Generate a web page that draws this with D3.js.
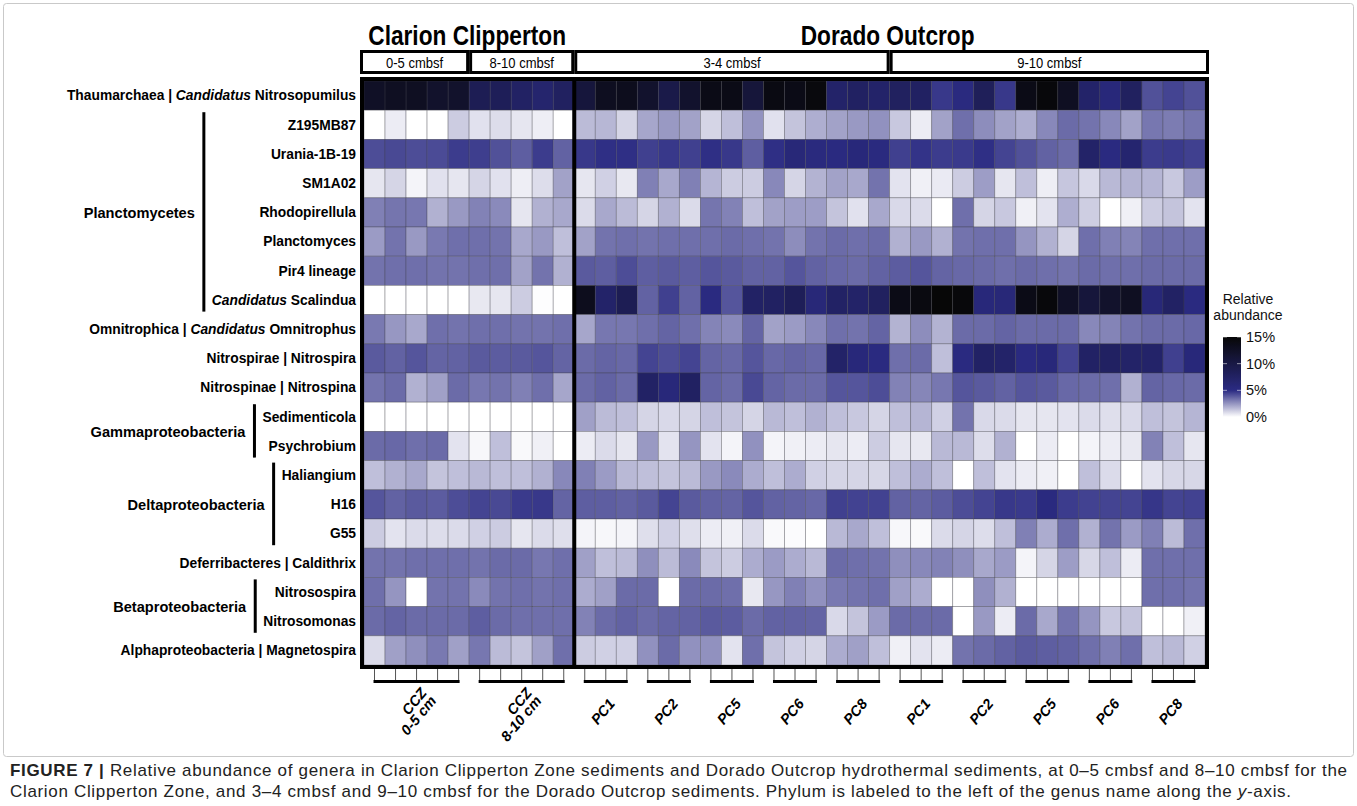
<!DOCTYPE html>
<html>
<head>
<meta charset="utf-8">
<script src="https://cdn.jsdelivr.net/npm/d3@7"></script>
<style>
  body { margin: 0; background: #fff; }
  svg { display: block; font-family: "Liberation Sans", Arial, sans-serif; }
</style>
</head>
<body>
<svg id="chart" width="1357" height="806"></svg>
<script>
// ---- data -------------------------------------------------------------
const sites = ["Clarion Clipperton", "Dorado Outcrop"];
const depths = ["0-5 cmbsf", "8-10 cmbsf", "3-4 cmbsf", "9-10 cmbsf"];
const depthSite = [0, 0, 1, 1];

// sample groups along the x axis (replicate cores per group)
const groupLabels = [["CCZ", "0-5 cm"], ["CCZ", "8-10 cm"], ["PC1"], ["PC2"], ["PC5"], ["PC6"], ["PC8"],
                     ["PC1"], ["PC2"], ["PC5"], ["PC6"], ["PC8"]];
const groupSizes = [5, 5, 3, 3, 3, 3, 3, 3, 3, 3, 3, 3];
const groupDepth = [0, 1, 2, 2, 2, 2, 2, 3, 3, 3, 3, 3];

// genus rows (text between * is italic)
const genera = [
  "Thaumarchaea | *Candidatus* Nitrosopumilus",
  "Z195MB87", "Urania-1B-19", "SM1A02", "Rhodopirellula", "Planctomyces", "Pir4 lineage",
  "*Candidatus* Scalindua",
  "Omnitrophica | *Candidatus* Omnitrophus",
  "Nitrospirae | Nitrospira",
  "Nitrospinae | Nitrospina",
  "Sedimenticola", "Psychrobium",
  "Haliangium", "H16", "G55",
  "Deferribacteres | Caldithrix",
  "Nitrosospira", "Nitrosomonas",
  "Alphaproteobacteria | Magnetospira"
];

// phyla spanning several genus rows
const phylumNames = ["Planctomycetes", "Gammaproteobacteria", "Deltaproteobacteria", "Betaproteobacteria"];
const phylumFirstRow = [1, 11, 13, 17];
const phylumLastRow = [7, 12, 15, 18];

// relative abundance (%), one row per genus, 40 samples per row
const abundance = [
  [12.5,12.8,12.8,12.0,12.0, 8.8,8.5,7.5,6.8,7.8, 10.7,13.0,13.2,11.9,9.7, 11.9,13.8,13.8,10.9,14.1, 13.8,14.5,7.1,7.7,7.1, 7.9,7.7,4.7,5.3,8.4, 4.7,13.8,14.7,12.8,7.1, 5.7,7.9,4.1,4.4,4.1],
  [0.0,0.45,0.0,0.0,1.2, 0.7,0.8,0.6,0.4,0.0, 1.6,1.7,1.0,2.1,2.4, 2.2,1.0,1.5,2.55,0.7, 1.4,1.9,2.2,2.4,2.6, 1.3,0.45,2.2,3.4,2.7, 2.2,1.9,2.8,3.5,3.3, 2.8,2.2,3.2,3.1,3.25],
  [4.2,4.3,4.2,4.25,4.6, 4.55,4.1,3.8,4.6,3.7, 4.7,4.9,4.9,4.5,4.7, 4.5,4.9,4.7,3.8,4.9, 5.9,5.4,5.25,5.7,5.3, 4.5,4.8,4.6,4.65,4.9, 4.4,4.1,3.7,3.5,7.2, 5.25,6.6,4.6,4.65,4.5],
  [0.6,1.0,0.25,0.7,0.6, 1.0,0.7,0.4,0.8,2.2, 0.6,1.1,0.55,3.0,2.05, 3.0,1.75,1.2,1.2,2.8, 1.0,1.8,2.2,2.05,3.3, 0.65,0.35,0.5,1.2,2.3, 0.6,1.5,0.4,1.35,0.9, 1.65,1.8,1.75,1.3,2.3],
  [3.0,3.25,3.2,1.85,2.4, 2.95,2.75,0.6,1.85,2.05, 0.85,2.05,1.6,1.0,1.85, 0.85,3.25,2.95,1.5,2.2, 2.3,2.3,1.4,0.7,2.05, 0.9,0.85,0.0,3.4,1.0, 1.3,0.35,0.65,1.9,1.15, 0.0,0.35,1.2,1.4,0.65],
  [2.35,3.3,2.4,3.15,3.4, 3.4,3.3,2.05,2.4,1.5, 2.2,3.3,3.4,3.3,3.4, 3.4,3.4,3.5,3.4,3.3, 2.7,3.3,3.5,3.4,3.5, 1.85,2.4,1.85,3.3,3.4, 3.4,2.5,1.85,1.0,3.4, 3.0,2.9,3.4,3.4,3.4],
  [3.3,3.4,3.4,3.3,3.3, 3.4,3.4,2.2,3.3,1.85, 3.9,3.8,4.2,3.8,3.9, 3.8,4.0,3.9,3.7,3.7, 4.0,3.7,3.55,3.5,3.7, 3.85,4.0,3.65,3.55,3.5, 3.4,3.5,3.4,3.3,3.5, 3.4,3.4,3.5,3.5,3.5],
  [0.0,0.0,0.0,0.0,0.0, 0.55,0.6,1.2,0.05,0.0, 13.2,7.1,8.8,3.7,4.5, 3.7,5.25,4.0,7.4,7.7, 8.5,5.9,7.4,7.2,7.9, 13.8,14.3,15.0,14.7,5.7, 5.9,13.8,14.7,12.5,10.8, 12.0,12.8,5.9,7.5,5.25],
  [3.15,2.45,2.05,3.4,3.3, 3.4,3.4,3.3,3.3,3.4, 2.1,3.2,3.2,3.4,3.65, 3.4,2.9,2.75,3.65,2.2, 2.35,2.8,3.4,3.3,3.65, 1.8,2.7,1.8,3.5,3.5, 3.65,3.5,3.5,3.5,2.8, 2.9,3.3,3.5,3.5,3.55],
  [3.9,3.7,4.0,3.65,3.7, 3.9,3.85,3.9,4.0,3.65, 3.5,3.65,3.55,4.4,4.2, 4.4,3.65,3.55,4.0,3.55, 3.65,3.55,7.2,5.7,5.25, 3.4,3.5,1.5,5.25,7.4, 7.1,5.25,5.7,4.4,7.4, 7.7,7.2,7.1,4.5,5.7],
  [3.3,3.5,1.85,2.25,3.5, 3.2,3.3,3.0,3.4,2.1, 3.5,3.7,3.5,7.4,5.7, 7.7,3.65,3.5,4.3,3.65, 3.5,3.5,4.0,4.0,4.2, 2.95,2.85,3.2,4.0,3.9, 3.7,4.0,3.9,3.55,3.5, 3.4,1.85,3.65,3.55,3.5],
  [0.0,0.0,0.0,0.0,0.0, 0.0,0.0,0.0,0.0,0.0, 2.25,1.6,1.5,1.0,0.9, 1.0,1.5,1.4,1.0,1.65, 1.5,1.85,1.5,1.3,1.0, 1.5,1.75,1.1,3.3,0.9, 0.85,0.6,0.6,0.65,0.85, 0.75,0.9,1.5,1.4,1.75],
  [3.5,3.55,3.4,3.5,0.65, 0.2,1.5,0.15,0.35,0.0, 0.45,0.85,0.6,2.4,0.65, 2.5,0.65,0.25,2.6,0.25, 0.35,0.45,0.6,0.45,1.2, 0.6,0.55,1.65,1.65,0.8, 1.85,0.0,0.45,0.0,0.25, 0.45,0.55,2.95,1.5,0.6],
  [1.5,1.85,2.05,1.4,1.5, 1.65,1.5,1.5,1.85,2.8, 3.0,2.35,1.65,1.5,1.4, 1.6,2.4,2.75,1.95,1.5, 1.95,1.1,1.0,1.0,0.95, 1.5,1.95,1.5,0.0,1.5, 0.65,0.45,0.35,0.0,1.5, 0.85,0.0,0.65,0.95,0.95],
  [4.0,3.7,3.9,3.85,4.2, 4.4,4.3,4.65,4.7,3.65, 3.8,3.8,3.7,3.9,4.4, 3.9,3.7,3.65,4.0,3.7, 3.65,3.55,4.5,4.45,4.45, 3.7,3.65,3.85,4.2,4.4, 4.7,4.65,5.3,4.6,4.45, 4.4,4.4,4.75,4.4,4.45],
  [1.2,0.65,0.85,0.8,0.85, 1.1,1.2,0.6,0.85,0.75, 0.25,0.2,0.25,0.75,1.1, 0.75,0.45,0.35,0.85,0.15, 0.1,0.0,1.65,2.05,1.5, 0.2,0.15,0.85,1.0,0.8, 1.5,3.0,1.95,3.4,1.85, 3.3,2.35,3.0,1.6,3.4],
  [3.3,3.3,3.4,3.4,3.4, 3.3,3.5,3.5,3.2,3.4, 2.25,1.5,1.6,2.65,1.6, 2.75,1.4,1.2,1.95,2.35, 1.95,1.65,3.5,3.4,3.3, 2.65,2.8,2.95,2.65,2.05, 2.35,0.25,1.0,2.3,0.95, 1.5,0.45,3.4,3.4,3.4],
  [3.4,2.5,0.0,3.3,3.3, 2.75,3.3,3.4,3.3,3.4, 1.95,2.25,3.5,3.5,0.0, 3.5,3.5,3.4,0.55,2.45, 3.0,2.6,3.15,3.3,3.4, 2.25,1.95,0.0,0.0,2.65, 1.85,0.0,0.0,0.0,0.0, 0.0,0.0,3.4,3.4,3.3],
  [3.5,3.65,3.5,3.5,3.5, 3.8,3.5,3.4,3.4,3.4, 2.95,3.5,3.7,3.5,3.65, 3.7,3.9,3.85,3.5,3.7, 3.7,3.65,0.9,1.4,2.35, 3.5,3.5,3.5,0.0,2.4, 0.45,3.5,2.05,3.3,2.5, 1.3,1.4,0.0,0.0,0.35],
  [0.85,2.25,2.65,3.15,2.25, 3.2,1.6,1.4,2.25,3.4, 1.2,1.1,1.1,2.6,3.5, 2.6,2.6,0.65,3.4,1.4, 1.1,1.0,1.95,2.25,1.5, 0.35,0.65,0.45,3.3,3.5, 3.7,3.9,3.8,3.7,3.4, 3.0,3.4,1.5,1.65,1.1]
];

const legendTicks = [0, 5, 10, 15];
const legendTitle = ["Relative", "abundance"];

const captionLines = [
  [["FIGURE 7 |", "bold"], [" Relative abundance of genera in Clarion Clipperton Zone sediments and Dorado Outcrop hydrothermal sediments, at 0\u20135 cmbsf and 8\u201310 cmbsf for the", ""]],
  [["Clarion Clipperton Zone, and 3\u20134 cmbsf and 9\u201310 cmbsf for the Dorado Outcrop sediments. Phylum is labeled to the left of the genus name along the ", ""], ["y", "italic"], ["-axis.", ""]]
];
const captionWidths = [1337, 1281];

// ---- derived sample list ----------------------------------------------
const samples = [];
groupSizes.forEach((n, g) => {
  for (let r = 0; r < n; r++) samples.push({ id: g + "-" + r, group: g, depth: groupDepth[g] });
});

// ---- scales -----------------------------------------------------------
const svg = d3.select("#chart");
const x = d3.scaleBand().domain(samples.map(d => d.id)).range([364, 1205]);
const y = d3.scaleBand().domain(d3.range(genera.length)).range([81, 665]);
const color = d3.scaleLinear().domain([0, 5, 15])
  .range(["#ffffff", "#2b2b83", "#070707"]).clamp(true);

const bw = x.bandwidth(), bh = y.bandwidth();
const NARROW = 0.84;   // horizontal squeeze for condensed headings
const LABEL_SIZE = 13.8;
const PHYLUM_SIZE = 14.6;

// figure frame
svg.append("rect").attr("x", 3.5).attr("y", 3.5).attr("width", 1350).attr("height", 753)
  .attr("rx", 3).attr("fill", "none").attr("stroke", "#c9c9c9").attr("stroke-width", 1);

// ---- heatmap cells ----------------------------------------------------
const cells = [];
abundance.forEach((row, i) => row.forEach((v, j) => cells.push({ row: i, col: j, v })));
svg.append("g").selectAll("rect").data(cells).join("rect")
  .attr("x", d => x(samples[d.col].id))
  .attr("y", d => y(d.row))
  .attr("width", bw).attr("height", bh)
  .attr("fill", d => color(d.v))
  .attr("stroke", "rgba(60,60,70,0.42)")
  .attr("stroke-width", 0.8);

// outer frame and site divider
svg.append("rect").attr("x", 362).attr("y", 79).attr("width", 845).attr("height", 588)
  .attr("fill", "none").attr("stroke", "#000").attr("stroke-width", 4);
const firstDorado = samples.findIndex(s => depthSite[s.depth] === 1);
const divX = x(samples[firstDorado].id);
svg.append("line").attr("x1", divX).attr("x2", divX).attr("y1", 79).attr("y2", 667)
  .attr("stroke", "#000").attr("stroke-width", 4);

// ---- helpers ----------------------------------------------------------
function condensed(parent, cx, cy, str, size, weight) {
  const g = parent.append("g").attr("transform", `translate(${cx},${cy}) scale(${NARROW},1)`);
  g.append("text").attr("text-anchor", "middle").attr("font-size", size)
    .attr("font-weight", weight).attr("fill", "#000").text(str);
  return g;
}
function richText(sel, str) {
  str.split("*").forEach((part, k) => {
    if (!part) return;
    sel.append("tspan").attr("font-style", k % 2 ? "italic" : null).text(part);
  });
}

// ---- depth header boxes and site titles -------------------------------
depths.forEach((dLabel, d) => {
  const idx = samples.map((s, i) => s.depth === d ? i : -1).filter(i => i >= 0);
  const first = idx[0], last = idx[idx.length - 1];
  let left = x(samples[first].id), right = x(samples[last].id) + bw;
  if (first === 0) left = 360;
  if (last === samples.length - 1) right = 1209;
  svg.append("rect").attr("x", left + 1.5).attr("y", 51.5)
    .attr("width", right - left - 3).attr("height", 21)
    .attr("fill", "#fff").attr("stroke", "#000").attr("stroke-width", 3);
  condensed(svg, (left + right) / 2, 67.5, dLabel, 15.5, "normal");
});
sites.forEach((s, k) => {
  const idx = samples.map((sm, i) => depthSite[sm.depth] === k ? i : -1).filter(i => i >= 0);
  const cx = (x(samples[idx[0]].id) + x(samples[idx[idx.length - 1]].id) + bw) / 2;
  condensed(svg, cx - 2, 45, s, 27, "bold");
});

// ---- genus labels -----------------------------------------------------
const rowLabels = svg.append("g").attr("font-size", LABEL_SIZE).attr("font-weight", "bold").attr("fill", "#000");
const labelNodes = genera.map((gname, i) => {
  const t = rowLabels.append("text").attr("x", 356).attr("y", y(i) + bh / 2)
    .attr("dy", "0.35em").attr("text-anchor", "end");
  richText(t, gname);
  return t.node();
});

// phylum brackets
phylumNames.forEach((p, k) => {
  const rows = d3.range(phylumFirstRow[k], phylumLastRow[k] + 1);
  const minX = d3.min(rows, r => labelNodes[r].getBBox().x);
  const lx = minX - 8;
  svg.append("line").attr("x1", lx).attr("x2", lx)
    .attr("y1", y(phylumFirstRow[k]) + 2).attr("y2", y(phylumLastRow[k]) + bh - 3)
    .attr("stroke", "#000").attr("stroke-width", 3);
  svg.append("text").attr("x", lx - 9)
    .attr("y", (y(phylumFirstRow[k]) + y(phylumLastRow[k]) + bh) / 2)
    .attr("dy", "0.35em").attr("text-anchor", "end")
    .attr("font-size", PHYLUM_SIZE).attr("font-weight", "bold").text(p);
});

// ---- x axis: ticks, group bars, rotated labels ------------------------
const axis = svg.append("g");
axis.selectAll("line.tick").data(samples).join("line")
  .attr("x1", d => x(d.id) + bw / 2).attr("x2", d => x(d.id) + bw / 2)
  .attr("y1", 669).attr("y2", 680)
  .attr("stroke", "#555").attr("stroke-width", 1);
groupSizes.forEach((n, g) => {
  const members = samples.filter(s => s.group === g);
  const c0 = x(members[0].id) + bw / 2, c1 = x(members[n - 1].id) + bw / 2;
  axis.append("line").attr("x1", c0 - 1).attr("x2", c1 + 1).attr("y1", 681.5).attr("y2", 681.5)
    .attr("stroke", "#000").attr("stroke-width", 3);
  const cx = (c0 + c1) / 2;
  const lines = groupLabels[g];
  // each line is right-aligned; later lines sit below the first along the rotated axis
  lines.forEach((ln, li) => {
    const shift = (li - (lines.length - 1) / 2) * 12.5;
    axis.append("text")
      .attr("transform", `translate(${cx + 10},${704}) rotate(-50) translate(${lines.length > 1 ? 9 : 0},${shift})`)
      .attr("text-anchor", "end").attr("font-size", 14.5).attr("font-weight", "bold")
      .attr("font-style", "italic").text(ln);
  });
});

// ---- colour legend ----------------------------------------------------
const legY = d3.scaleLinear().domain([0, 15]).range([417, 337]);
const grad = svg.append("defs").append("linearGradient").attr("id", "abund-grad")
  .attr("x1", 0).attr("y1", 1).attr("x2", 0).attr("y2", 0);
d3.range(0, 15.01, 0.5).forEach(v => {
  grad.append("stop").attr("offset", v / 15).attr("stop-color", color(v));
});
svg.append("rect").attr("x", 1223).attr("y", legY(15)).attr("width", 18)
  .attr("height", legY(0) - legY(15)).attr("fill", "url(#abund-grad)");
legendTicks.forEach(t => {
  [[1223, 1227], [1237, 1241]].forEach(([a, b]) => {
    svg.append("line").attr("x1", a).attr("x2", b).attr("y1", legY(t)).attr("y2", legY(t))
      .attr("stroke", "rgba(255,255,255,0.55)").attr("stroke-width", 1);
  });
  svg.append("text").attr("x", 1246).attr("y", legY(t)).attr("dy", "0.35em")
    .attr("font-size", 14.5).attr("fill", "#111").text(t + "%");
});
legendTitle.forEach((s, i) => {
  svg.append("text").attr("x", 1248).attr("y", 304 + i * 16).attr("text-anchor", "middle")
    .attr("font-size", 14).attr("fill", "#111").text(s);
});

// ---- caption ----------------------------------------------------------
captionLines.forEach((line, i) => {
  const t = svg.append("text").attr("x", 10).attr("y", 776 + i * 21)
    .attr("font-size", 17).attr("fill", "#222");
  line.forEach(([str, style]) => {
    const ts = t.append("tspan").text(str);
    if (style === "bold") ts.attr("font-weight", "bold");
    if (style === "italic") ts.attr("font-style", "italic");
  });
  t.attr("textLength", captionWidths[i]).attr("lengthAdjust", "spacing");
});
</script>
</body>
</html>
